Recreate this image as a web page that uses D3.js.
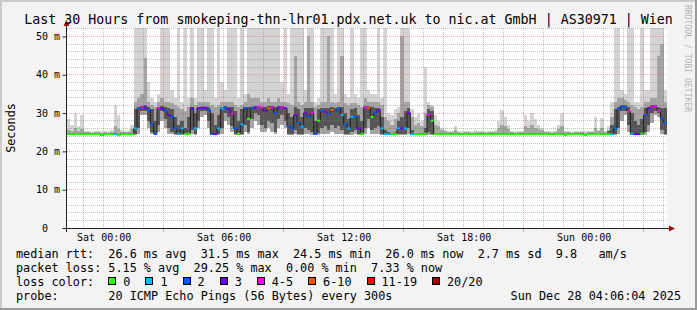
<!DOCTYPE html>
<html>
<head>
<meta charset="utf-8">
<script src="https://cdn.jsdelivr.net/npm/d3@7"></script>
<style>
  body { margin: 0; background: #f3f3f3; }
  svg { display: block; }
  text { font-family: "DejaVu Sans Mono", monospace; }
</style>
</head>
<body>
<div class="chart"></div>
<script>
// Smokeping style latency graph, 30 hours, 10 minute steps
var svgWidth = 697;
var svgHeight = 310;
var plot = { left: 67, right: 667, top: 28, bottom: 228 };

var startTime = Date.UTC(2025, 11, 26, 22, 10);
var stepMs = 10 * 60 * 1000;
var endTime = startTime + 30 * 3600 * 1000;
var yMax = 52.2;

// median rtt per step (ms)
var medianRtt = [
  24.5,24.5,24.5,24.5,24.5,24.5,24.5,24.5,24.5,24.5,
  24.3,24.5,24.5,24.5,24.5,24.2,24.5,24.5,24.5,24.5,
  26.0,31.2,31.5,31.4,30.8,27.2,24.6,31.3,31.3,30.5,
  29.5,29.0,26.0,24.6,26.0,24.5,24.6,31.3,26.0,31.3,
  31.4,31.4,30.8,24.6,24.5,26.0,31.2,31.3,31.0,29.8,
  26.0,24.6,27.0,31.3,28.5,31.4,31.4,31.5,31.4,30.5,
  31.3,31.5,30.0,31.4,31.5,31.3,26.5,26.0,29.5,27.5,
  26.5,30.0,29.0,30.0,24.6,28.0,30.5,30.3,29.8,30.8,
  30.5,31.2,29.5,27.0,26.0,29.0,29.0,26.0,24.6,31.5,
  31.4,29.0,30.0,30.8,26.0,24.5,24.5,24.5,24.5,26.0,
  26.0,26.0,30.0,24.5,24.5,24.5,24.5,24.6,29.5,28.0,
  24.5,24.5,24.5,24.5,24.5,24.5,24.5,24.5,24.5,24.5,
  24.5,24.5,24.5,24.5,24.5,24.5,24.5,24.5,24.5,24.5,
  24.5,24.5,24.5,24.5,24.5,24.5,24.5,24.5,24.5,24.5,
  24.5,24.5,24.5,24.5,24.5,24.5,24.5,24.5,24.5,24.3,
  24.5,24.5,24.5,24.5,24.5,24.3,24.5,24.5,24.5,24.5,
  24.5,24.5,24.5,24.5,26.0,31.0,31.6,31.5,30.5,24.6,
  24.5,24.5,24.6,29.5,31.3,31.6,31.6,30.5,28.5,27.5
];

// lost pings out of 20 per step
var lossCount = [
  0,0,0,0,0,0,0,0,0,0,
  0,0,0,0,1,0,0,0,0,0,
  1,2,4,3,2,2,2,4,3,2,
  3,2,2,1,1,0,0,3,1,3,
  3,3,2,2,3,1,1,2,3,4,
  2,0,1,2,0,2,3,4,4,3,
  6,4,2,3,4,3,2,2,3,2,
  1,3,2,4,2,0,2,3,2,6,
  2,2,1,2,1,1,2,3,0,4,
  6,0,2,3,1,1,1,0,0,1,
  3,1,3,1,0,0,0,0,4,0,
  0,0,0,0,0,0,0,0,0,0,
  0,0,0,0,0,0,0,0,0,0,
  0,0,0,0,0,0,0,0,0,0,
  0,0,0,0,0,0,0,0,0,0,
  0,0,0,0,0,0,0,0,0,0,
  0,0,0,1,2,2,2,2,4,1,
  3,3,0,2,3,4,4,4,2,2
];

// smoke: ping spread per step (ms)
var smokeMin = [
  24.2,24.2,24.2,24.2,24.2,24.2,24.2,24.2,24.2,24.2,
  24.1,24.2,24.2,24.2,24.2,24.1,24.2,24.2,24.2,24.2,
  24.3,24.5,29.5,29.5,26.0,24.5,24.3,25.0,28.0,26.0,
  24.5,24.5,24.3,24.3,24.3,24.3,24.3,24.5,24.3,26.0,
  29.0,29.5,26.0,24.3,24.3,24.3,24.5,28.0,27.0,25.0,
  24.3,24.3,24.3,25.0,24.5,26.0,28.0,27.0,25.0,25.0,
  26.0,25.0,24.5,26.0,27.0,26.0,24.3,24.3,24.5,24.3,
  24.3,24.5,24.5,24.3,24.3,24.3,24.5,24.5,24.5,25.0,
  24.5,24.5,24.5,24.3,24.3,24.3,24.5,24.3,24.3,24.5,
  26.0,24.5,24.5,24.5,24.3,24.3,24.3,24.3,24.3,24.3,
  24.3,24.3,24.5,24.3,24.2,24.2,24.2,24.3,24.3,24.3,
  24.2,24.2,24.2,24.2,24.2,24.2,24.2,24.2,24.2,24.2,
  24.2,24.2,24.2,24.2,24.2,24.2,24.2,24.2,24.2,24.2,
  24.2,24.2,24.2,24.2,24.2,24.2,24.2,24.2,24.2,24.2,
  24.2,24.2,24.2,24.2,24.2,24.2,24.2,24.2,24.2,24.1,
  24.2,24.2,24.2,24.2,24.2,24.1,24.2,24.2,24.2,24.2,
  24.2,24.2,24.2,24.3,24.3,24.5,28.0,29.5,25.0,24.3,
  24.3,24.3,24.3,24.3,25.0,27.5,29.5,29.0,24.5,24.3
];

var smokeP25 = [
  24.4,24.4,24.4,24.4,24.4,24.4,24.4,24.4,24.4,24.4,
  24.2,24.4,24.4,24.4,24.4,24.2,24.4,24.4,24.4,24.4,
  24.5,26.0,30.5,30.5,28.0,25.0,24.4,27.0,30.5,28.5,
  26.0,25.0,24.5,24.4,24.5,24.4,24.4,25.5,24.5,28.0,
  30.5,30.5,28.0,24.4,24.4,24.5,26.0,30.0,29.0,26.5,
  24.5,24.4,24.6,27.0,25.0,28.5,30.0,29.5,27.0,26.0,
  28.0,27.5,25.0,28.5,29.5,28.0,24.5,24.5,25.5,24.6,
  24.5,26.0,25.5,25.0,24.4,24.8,26.0,26.5,25.5,27.0,
  26.0,26.5,25.5,24.6,24.5,25.0,25.5,24.5,24.4,26.0,
  28.5,25.5,26.0,26.5,24.5,24.4,24.4,24.4,24.4,24.5,
  24.5,24.5,26.0,24.4,24.4,24.4,24.4,24.4,25.0,24.6,
  24.4,24.4,24.4,24.4,24.4,24.4,24.4,24.4,24.4,24.4,
  24.4,24.4,24.4,24.4,24.4,24.4,24.4,24.4,24.4,24.4,
  24.4,24.4,24.4,24.4,24.4,24.4,24.4,24.4,24.4,24.4,
  24.4,24.4,24.4,24.4,24.4,24.4,24.4,24.4,24.4,24.2,
  24.4,24.4,24.4,24.4,24.4,24.2,24.4,24.4,24.4,24.4,
  24.4,24.4,24.4,24.4,24.5,26.0,30.5,30.5,27.0,24.4,
  24.4,24.4,24.4,25.0,27.0,30.0,30.5,30.0,25.5,24.6
];

var smokeP75 = [
  24.7,24.7,24.8,24.7,24.8,24.7,24.7,24.7,24.7,24.7,
  24.6,24.7,24.7,24.7,24.8,24.6,24.7,24.7,24.7,24.9,
  31.0,31.6,31.8,32.0,31.6,31.0,28.0,31.6,31.8,31.6,
  31.4,31.0,29.0,27.0,28.0,26.0,29.0,31.6,30.0,31.6,
  31.7,31.7,31.6,30.0,27.0,29.5,31.6,31.8,31.6,31.5,
  30.5,28.0,31.0,31.6,31.5,31.7,31.8,31.8,31.7,31.6,
  31.8,31.8,31.6,31.8,31.8,31.6,30.0,29.0,31.5,31.0,
  29.0,31.4,31.3,31.2,28.0,31.0,31.4,31.4,31.4,31.6,
  31.3,31.5,31.5,30.0,28.5,31.0,31.2,29.5,28.0,31.8,
  31.8,31.5,31.3,31.4,29.0,25.5,25.0,24.8,25.0,28.0,
  29.0,30.5,31.3,25.5,24.8,24.8,24.7,26.0,31.0,30.5,
  24.8,24.7,24.7,24.7,24.7,24.7,24.8,24.7,24.7,24.7,
  24.7,24.7,24.7,24.7,24.7,24.7,24.7,24.7,24.7,24.8,
  24.9,24.8,24.7,24.7,24.7,24.7,24.7,24.8,24.7,24.8,
  24.8,24.7,24.7,24.7,24.7,24.7,24.7,24.7,24.8,24.6,
  24.7,24.7,24.7,24.7,24.7,24.6,24.7,24.7,24.8,24.7,
  24.8,24.7,25.2,27.0,31.0,31.6,32.0,32.0,31.6,30.0,
  28.0,27.0,28.5,31.4,31.7,32.0,32.0,31.6,31.4,31.2
];

var smokeP90 = [
  25.6,25.3,26.2,25.4,25.8,25.0,25.0,24.9,25.0,25.0,
  24.9,25.0,24.9,25.1,26.5,25.8,25.0,25.1,25.0,25.8,
  33.0,34.0,35.0,44.5,33.0,32.0,31.5,33.0,34.0,33.0,
  33.0,32.5,32.0,31.5,31.0,30.5,31.5,34.0,32.0,33.0,
  33.0,33.0,33.0,32.0,31.5,32.0,33.0,33.0,33.0,33.0,
  32.0,31.5,32.0,33.0,35.0,34.0,34.0,34.0,33.0,33.0,
  34.0,33.0,33.0,34.0,33.0,33.0,32.5,32.0,45.0,33.0,
  32.0,33.0,50.0,33.0,31.5,32.0,33.0,33.0,50.0,33.0,
  32.5,33.0,45.0,32.5,32.0,32.5,32.5,32.0,31.5,34.0,
  33.0,33.0,33.0,33.0,32.0,29.0,28.0,27.0,28.5,30.0,
  50.0,33.0,33.0,29.0,27.0,27.5,26.5,30.0,32.0,31.5,
  27.0,26.5,25.5,25.2,25.0,25.1,25.6,25.0,24.9,25.0,
  25.0,24.9,25.0,25.1,25.0,24.9,25.0,25.0,25.1,26.0,
  27.0,26.5,25.8,25.0,24.9,25.0,25.0,26.5,26.0,27.0,
  26.0,25.8,25.5,25.0,25.0,24.9,25.0,25.8,26.5,25.0,
  25.0,24.9,25.0,25.0,25.0,24.9,25.0,25.0,26.0,25.3,
  26.0,25.0,25.6,29.0,33.0,34.0,34.0,33.5,33.0,32.0,
  31.5,31.0,31.5,33.0,33.0,34.0,34.0,45.0,48.0,33.0
];

var smokeMax = [
  28.5,27.0,30.0,26.5,29.5,25.4,25.3,25.2,25.3,25.4,
  25.4,25.3,25.2,25.5,32.0,29.5,25.6,25.4,25.3,27.0,
  55,55,55,55,38,34,33,35,55,55,
  55,36,34,55,33,55,34,55,34,55,
  55,36,55,55,34,55,38,36,55,55,
  55,34,55,35,55,55,55,55,55,55,
  55,55,55,55,38,55,35,55,55,55,
  55,36,55,55,33,34,55,55,55,55,
  35,55,55,35,34,55,35,34,55,55,
  36,35,35,55,34,55,30,29.5,31,31.5,
  55,55,55,31,29,30,28,42,33,32,
  29.5,28,26,25.5,25.3,25.4,26.5,25.3,25.2,25.4,
  25.3,25.2,25.5,25.4,25.3,25.2,25.4,25.3,25.5,28,
  30.8,29,27,25.4,25.3,25.2,25.4,29.5,28,30,
  28.5,27,26,25.4,25.3,25.2,25.4,27,30,25.2,
  25.3,25.2,25.4,25.3,25.2,25.2,25.4,25.3,29,25.5,
  28.7,25.3,26.5,33,55,55,36,35,55,55,
  33,33,55,36,36,55,55,55,55,36
];

var yTickValues = [0, 10, 20, 30, 40, 50];
var lossLabels = ["0", "1", "2", "3", "4-5", "6-10", "11-19", "20/20"];
var lossColors = ["#26ff00", "#00b8ff", "#0059ff", "#7000ff", "#f000ff", "#ff5500", "#ff0000", "#a10000"];

var titleText = "Last 30 Hours from smokeping-thn-lhr01.pdx.net.uk to nic.at GmbH | AS30971 | Wien";
var legendRows = [
  "median rtt:  26.6 ms avg  31.5 ms max  24.5 ms min  26.0 ms now  2.7 ms sd  9.8   am/s",
  "packet loss: 5.15 % avg  29.25 % max  0.00 % min  7.33 % now",
  "loss color:",
  "probe:       20 ICMP Echo Pings (56 Bytes) every 300s"
];
var stampText = "Sun Dec 28 04:06:04 2025";

function lossClass(n) {
  if (n >= 20) return 7;
  if (n >= 11) return 6;
  if (n >= 6) return 5;
  if (n >= 4) return 4;
  return n;
}

var steps = medianRtt.map(function (m, i) {
  return {
    t0: new Date(startTime + i * stepMs),
    t1: new Date(startTime + (i + 1) * stepMs),
    med: m,
    loss: lossCount[i],
    min: smokeMin[i],
    p25: smokeP25[i],
    p75: smokeP75[i],
    p90: smokeP90[i],
    max: smokeMax[i]
  };
});

var svg = d3.select(".chart")
  .append("svg")
  .attr("width", svgWidth)
  .attr("height", svgHeight);

// background and 3d frame
svg.append("rect").attr("width", svgWidth).attr("height", svgHeight).attr("fill", "#f3f3f3");
svg.append("rect").attr("x", 0).attr("y", 0).attr("width", svgWidth).attr("height", 2).attr("fill", "#cbcbcb");
svg.append("rect").attr("x", 0).attr("y", 0).attr("width", 2).attr("height", svgHeight).attr("fill", "#cbcbcb");
svg.append("rect").attr("x", 0).attr("y", svgHeight - 2).attr("width", svgWidth).attr("height", 2).attr("fill", "#999");
svg.append("rect").attr("x", svgWidth - 2).attr("y", 0).attr("width", 2).attr("height", svgHeight).attr("fill", "#999");

var xScale = d3.scaleUtc()
  .domain([new Date(startTime), new Date(endTime)])
  .range([plot.left, plot.right]);

var yScale = d3.scaleLinear()
  .domain([0, yMax])
  .range([plot.bottom, plot.top]);

svg.append("defs").append("clipPath").attr("id", "plotclip")
  .append("rect")
  .attr("x", plot.left).attr("y", plot.top)
  .attr("width", plot.right - plot.left).attr("height", plot.bottom - plot.top);

svg.append("rect")
  .attr("x", plot.left).attr("y", plot.top)
  .attr("width", plot.right - plot.left).attr("height", plot.bottom - plot.top)
  .attr("fill", "#fff");

// smoke
var smokeGroup = svg.append("g")
  .attr("clip-path", "url(#plotclip)")
  .attr("shape-rendering", "crispEdges");

var bands = [
  { lo: "min", hi: "max", color: "#d4d4d4" },
  { lo: "min", hi: "p90", color: "#a4a4a4" },
  { lo: "p25", hi: "p75", color: "#565656" }
];

bands.forEach(function (b) {
  smokeGroup.selectAll(null)
    .data(steps)
    .enter()
    .append("rect")
    .attr("x", d => xScale(d.t0))
    .attr("width", d => xScale(d.t1) - xScale(d.t0))
    .attr("y", d => yScale(d[b.hi]))
    .attr("height", d => Math.max(0, yScale(d[b.lo]) - yScale(d[b.hi])))
    .attr("fill", b.color);
});

// grid
var gridGroup = svg.append("g").attr("fill", "none");
var hours = d3.utcHour.range(new Date(startTime), new Date(endTime));
var px = v => Math.floor(v) + 0.5;

gridGroup.selectAll(".vminor")
  .data(hours.filter(h => h.getUTCHours() % 3 !== 0))
  .enter().append("line")
  .attr("x1", d => px(xScale(d))).attr("x2", d => px(xScale(d)))
  .attr("y1", plot.top).attr("y2", plot.bottom)
  .attr("stroke", "rgba(120,120,120,0.45)")
  .attr("stroke-dasharray", "1,1");

gridGroup.selectAll(".hminor")
  .data(yScale.ticks(26).filter(v => v % 10 !== 0))
  .enter().append("line")
  .attr("x1", plot.left).attr("x2", plot.right)
  .attr("y1", d => px(yScale(d))).attr("y2", d => px(yScale(d)))
  .attr("stroke", "rgba(120,120,120,0.45)")
  .attr("stroke-dasharray", "1,1");

gridGroup.selectAll(".vmajor")
  .data(hours.filter(h => h.getUTCHours() % 3 === 0))
  .enter().append("line")
  .attr("x1", d => px(xScale(d))).attr("x2", d => px(xScale(d)))
  .attr("y1", plot.top).attr("y2", plot.bottom)
  .attr("stroke", "rgba(230,70,70,0.42)")
  .attr("stroke-dasharray", "1,1");

gridGroup.selectAll(".hmajor")
  .data(yTickValues.slice(1))
  .enter().append("line")
  .attr("x1", plot.left).attr("x2", plot.right)
  .attr("y1", d => px(yScale(d))).attr("y2", d => px(yScale(d)))
  .attr("stroke", "rgba(230,70,70,0.42)")
  .attr("stroke-dasharray", "1,1");

// median: thin dark step line for the jumps, coloured dash per step on top
var medGroup = svg.append("g").attr("clip-path", "url(#plotclip)");

var stepLine = d3.line()
  .curve(d3.curveStepAfter)
  .x(p => xScale(p[0]))
  .y(p => yScale(p[1]));

var allPts = steps.map(d => [d.t0, d.med]);
allPts.push([steps[steps.length - 1].t1, steps[steps.length - 1].med]);
medGroup.append("path")
  .attr("d", stepLine(allPts))
  .attr("fill", "none")
  .attr("stroke", "#1e1e1e")
  .attr("stroke-width", 1);

medGroup.selectAll(".med")
  .data(steps)
  .enter().append("line")
  .attr("x1", d => xScale(d.t0))
  .attr("x2", d => xScale(d.t1))
  .attr("y1", d => yScale(d.med))
  .attr("y2", d => yScale(d.med))
  .attr("stroke", d => lossColors[lossClass(d.loss)])
  .attr("stroke-width", 2);

// axes
var leftAxis = d3.axisLeft(yScale)
  .tickValues(yTickValues)
  .tickSize(4)
  .tickPadding(2.5)
  .tickFormat(d => d === 0 ? "0" : d + " m");

var yAxisG = svg.append("g")
  .attr("transform", `translate(${plot.left - 0.5}, 0)`)
  .call(leftAxis);
yAxisG.select(".domain").remove();
yAxisG.selectAll("line").attr("stroke", "#333");
yAxisG.selectAll("text")
  .attr("font-family", "DejaVu Sans Mono")
  .attr("font-size", 10)
  .attr("fill", "#000")
  .attr("dx", d => d === 0 ? -12 : 0);

var labelTimes = hours.filter(h => h.getUTCHours() % 6 === 0);
var bottomAxis = d3.axisBottom(xScale)
  .tickValues(labelTimes)
  .tickSize(0)
  .tickPadding(6)
  .tickFormat(d3.utcFormat("%a %H:%M"));

var xAxisG = svg.append("g")
  .attr("transform", `translate(0, ${plot.bottom})`)
  .call(bottomAxis);
xAxisG.select(".domain").remove();
xAxisG.selectAll("text")
  .attr("font-family", "DejaVu Sans Mono")
  .attr("font-size", 10)
  .attr("fill", "#000");

// small marks under the axis
svg.selectAll(".xmark")
  .data(hours.filter(h => h.getUTCHours() % 6 === 3))
  .enter().append("line")
  .attr("x1", d => px(xScale(d))).attr("x2", d => px(xScale(d)))
  .attr("y1", plot.bottom).attr("y2", plot.bottom + 4)
  .attr("stroke", "rgba(230,70,70,0.55)");

svg.append("line")
  .attr("x1", plot.left - 0.5).attr("x2", plot.left - 0.5)
  .attr("y1", plot.bottom + 4).attr("y2", plot.top - 5)
  .attr("stroke", "#222");
svg.append("line")
  .attr("x1", plot.left - 4).attr("x2", plot.right + 3)
  .attr("y1", plot.bottom + 0.5).attr("y2", plot.bottom + 0.5)
  .attr("stroke", "#222");

svg.append("path")
  .attr("d", `M${plot.left - 3.5},${plot.top - 2} L${plot.left + 2.5},${plot.top - 2} L${plot.left - 0.5},${plot.top - 8} Z`)
  .attr("fill", "#9a1010");
svg.append("path")
  .attr("d", `M${plot.right + 2},${plot.bottom - 2.5} L${plot.right + 2},${plot.bottom + 3.5} L${plot.right + 8},${plot.bottom + 0.5} Z`)
  .attr("fill", "#9a1010");

// titles
svg.append("text")
  .attr("x", svgWidth / 2)
  .attr("y", 24)
  .attr("text-anchor", "middle")
  .attr("font-size", 13.3)
  .attr("fill", "#000")
  .text(titleText);

svg.append("text")
  .attr("transform", "translate(15, 128) rotate(-90)")
  .attr("text-anchor", "middle")
  .attr("font-size", 11.8)
  .attr("fill", "#000")
  .text("Seconds");

svg.append("text")
  .attr("transform", "translate(685, 5) rotate(90)")
  .attr("font-size", 8.1)
  .attr("fill", "#b4b4b4")
  .text("RRDTOOL / TOBI OETIKER");

// legend
var legendG = svg.append("g")
  .attr("font-size", 11.8)
  .attr("fill", "#000");

var rowNodes = legendG.selectAll(".row")
  .data(legendRows)
  .enter().append("text")
  .attr("xml:space", "preserve")
  .style("white-space", "pre")
  .attr("x", 16)
  .attr("y", (d, i) => 258 + i * 14)
  .text(d => d);

var advance = rowNodes.nodes()[0].getComputedTextLength() / legendRows[0].length;

legendG.append("text")
  .attr("x", 681)
  .attr("y", 300)
  .attr("text-anchor", "end")
  .text(stampText);

var boxX = 16 + 13 * advance;
lossLabels.forEach(function (lab, i) {
  legendG.append("rect")
    .attr("x", Math.round(boxX) + 0.5)
    .attr("y", 277.5)
    .attr("width", 7)
    .attr("height", 7)
    .attr("fill", lossColors[i])
    .attr("stroke", "#000");
  var t = legendG.append("text")
    .attr("x", boxX + 15)
    .attr("y", 286)
    .text(lab);
  boxX = boxX + 15 + t.node().getComputedTextLength() + 15;
});
</script>
</body>
</html>
